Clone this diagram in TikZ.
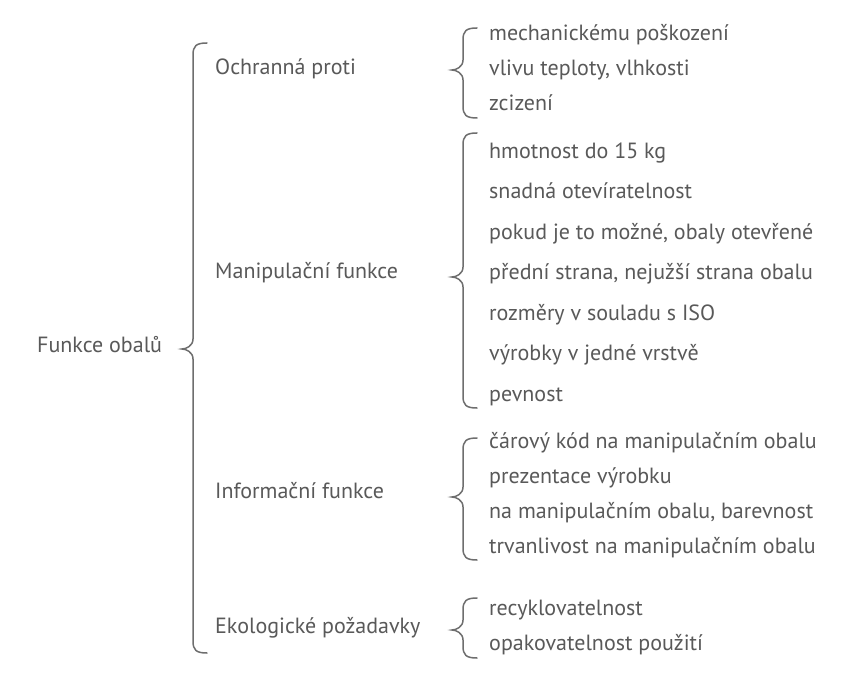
\documentclass[tikz,border=0pt]{standalone}
\usepackage{fontspec}
\setmainfont{PT Sans}
\usetikzlibrary{calc}
\definecolor{textgray}{HTML}{595959}
\definecolor{bracegray}{HTML}{6E6E6E}

% brace pointing left: x of the straight part, top, tip, bottom
\newcommand{\obalbrace}[4]{%
    \draw[brace line] ({#1+14}, #2) .. controls ({#1+3}, #2) and (#1, {#2+3}) .. (#1, {#2+12})
        -- (#1, {#3-10}) .. controls (#1, {#3-3}) and ({#1-7}, #3) .. ({#1-11}, #3)
        .. controls ({#1-7}, #3) and (#1, {#3+3}) .. (#1, {#3+10})
        -- (#1, {#4-12}) .. controls (#1, {#4-3}) and ({#1+3}, #4) .. ({#1+14}, #4);
}

\begin{document}
\begin{tikzpicture}[x=1pt, y=-1pt,
            label text/.style={anchor=west, inner sep=0pt, text=textgray,
                font=\fontsize{22}{26}\selectfont, text height=1.5ex, text depth=0.25ex},
            brace line/.style={draw=bracegray, line width=1.5pt, line cap=round}
            ]
            \useasboundingbox[fill=white] (0, 0) rectangle (842, 684);

            \pgfmathsetmacro{\itemx}{489}
            \pgfmathsetmacro{\groupx}{215}

            % root
            \node[label text] (root) at (37, 349) {Funkce obalů};
            \obalbrace{193}{43}{349}{653}

            % groups
            \node[label text] (ochrana) at (\groupx, 71) {Ochranná proti};
            \node[label text] (manipulace) at (\groupx, 275) {Manipulační funkce};
            \node[label text] (informace) at (\groupx, 495) {Informační funkce};
            \node[label text] (ekologie) at (\groupx, 630) {Ekologické požadavky};

            % items
            \foreach \txt [count=\i] in {mechanickému poškození, {vlivu teploty, vlhkosti}, zcizení}
                \node[label text] (och\i) at (\itemx, {37+35*(\i-1)}) {\txt};
            \foreach \txt [count=\i] in {hmotnost do 15 kg, snadná otevíratelnost,
                    {pokud je to možné, obaly otevřené}, {přední strana, nejužší strana obalu},
                    rozměry v souladu s ISO, výrobky v jedné vrstvě, pevnost}
                \node[label text] (man\i) at (\itemx, {155+40.5*(\i-1)}) {\txt};
            \foreach \txt [count=\i] in {čárový kód na manipulačním obalu, prezentace výrobku,
                    {na manipulačním obalu, barevnost}, trvanlivost na manipulačním obalu}
                \node[label text] (inf\i) at (\itemx, {445+35*(\i-1)}) {\txt};
            \foreach \txt [count=\i] in {recyklovatelnost, opakovatelnost použití}
                \node[label text] (eko\i) at (\itemx, {612+35*(\i-1)}) {\txt};

            % braces
            \obalbrace{463}{28}{70}{118}
            \obalbrace{463}{133}{277}{408}
            \obalbrace{463}{438}{497}{560}
            \obalbrace{463}{598}{630}{658}
        \end{tikzpicture}
\end{document}
